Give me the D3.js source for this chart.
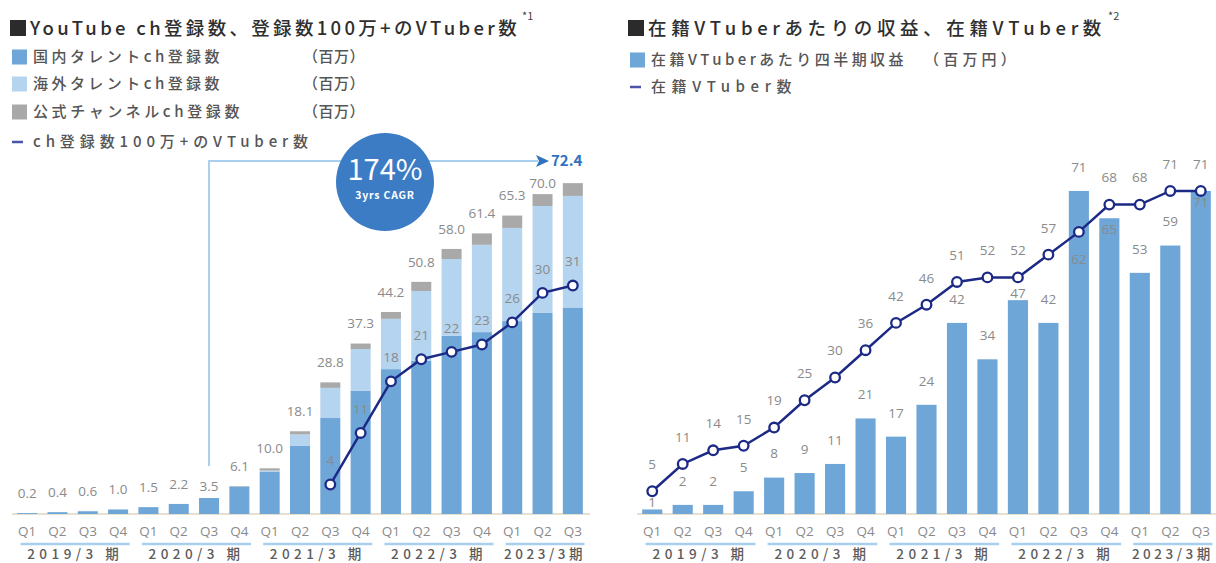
<!DOCTYPE html>
<html>
<head>
<meta charset="utf-8">
<script src="https://cdn.jsdelivr.net/npm/d3@7"></script>
<style>
  body { margin: 0; background: #fff; }
  svg { display: block; }
  text { font-family: "Noto Sans CJK JP", "Noto Sans", sans-serif; }
  .num { font-family: "Open Sans", "Noto Sans", sans-serif; fill: #8a8a8a; font-size: 13.5px; }
</style>
</head>
<body>
<div id="viz"></div>
<script>
// shared x axis
const quarters = ["Q1","Q2","Q3","Q4","Q1","Q2","Q3","Q4","Q1","Q2","Q3","Q4","Q1","Q2","Q3","Q4","Q1","Q2","Q3"];
const periodLabels = ["2019/3 期","2020/3 期","2021/3 期","2022/3 期","2023/3期"];
const periodFirst = [0, 4, 8, 12, 16];
const periodLast = [3, 7, 11, 15, 18];

// left chart: YouTube ch subscribers (millions)
const domesticSubs = [0.2,0.4,0.6,1.0,1.5,2.2,3.5,6.0,9.3,14.9,21.0,27.0,31.7,33.5,39.0,39.8,42.2,44.0,45.2];
const overseasSubs = [0,0,0,0,0,0,0,0,0.2,2.5,6.6,9.1,11.0,15.3,16.8,19.1,20.4,23.4,24.4];
const officialSubs = [0,0,0,0,0,0,0,0.1,0.5,0.7,1.2,1.2,1.5,2.0,2.2,2.5,2.7,2.6,2.8];
const totalLabels = ["0.2","0.4","0.6","1.0","1.5","2.2","3.5","6.1","10.0","18.1","28.8","37.3","44.2","50.8","58.0","61.4","65.3","70.0","72.4"];
const millionVtubers = [null,null,null,null,null,null,null,null,null,null,4,11,18,21,22,23,26,30,31];
const cagrText = "174%";
const cagrSub = "3yrs CAGR";
const cagrTarget = "72.4";

// right chart
const revenuePerVtuber = [1,2,2,5,8,9,11,21,17,24,42,34,47,42,71,65,53,59,71];
const vtuberCount = [5,11,14,15,19,25,30,36,42,46,51,52,52,57,62,68,68,71,71];

const C = {
  domestic: "#6ea6d8",
  overseas: "#b5d4ef",
  official: "#a9a9a9",
  line: "#1c2a86",
  circle: "#3b7cc5",
  under: "#a9cfee",
  base: "#e6e0d0"
};

const svg = d3.select("#viz").append("svg")
  .attr("width", 1216)
  .attr("height", 563);

const baseY = 514;

// spread a text's letters so it covers roughly the given width
function fit(t, width) {
  t.attr("letter-spacing", 0);
  const w = t.node().getComputedTextLength();
  const n = t.text().length;
  t.attr("letter-spacing", (width - w) / n);
  return t;
}

// ---------- legends ----------
function legendTitle(x, y, txt, note, width) {
  svg.append("rect").attr("x", x).attr("y", y - 8).attr("width", 16).attr("height", 16).attr("fill", "#2b2b2b");
  const t = svg.append("text").attr("x", x + 20).attr("y", y).attr("dy", "0.36em")
    .attr("font-size", 18.5).attr("font-weight", 500).attr("fill", "#2e2e2e")
    .text(txt);
  fit(t, width);
  svg.append("text").attr("x", x + 22 + width).attr("y", y - 8).attr("font-size", 11).attr("fill", "#444").text(note);
}
function legendText(x, y, txt, width) {
  const t = svg.append("text").attr("x", x).attr("y", y).attr("dy", "0.36em")
    .attr("font-size", 15).attr("font-weight", 500).attr("fill", "#555")
    .text(txt);
  return fit(t, width);
}
function legendSwatch(x, y, color, txt, width, unit, unitX, unitW) {
  svg.append("rect").attr("x", x).attr("y", y - 7.5).attr("width", 15).attr("height", 15).attr("fill", color);
  legendText(x + 21, y, txt, width);
  legendText(unitX, y, unit, unitW);
}
function legendLine(x, y, txt, width) {
  svg.append("line").attr("x1", x).attr("x2", x + 11).attr("y1", y).attr("y2", y)
    .attr("stroke", "#4a55a8").attr("stroke-width", 2.5);
  legendText(x + 21, y, txt, width);
}

legendTitle(10, 28, "YouTube ch登録数、登録数100万+のVTuber数", "*1", 490);
legendSwatch(12, 57, C.domestic, "国内タレントch登録数", 190, "（百万）", 303, 62);
legendSwatch(12, 84, C.overseas, "海外タレントch登録数", 190, "（百万）", 303, 62);
legendSwatch(12, 112, C.official, "公式チャンネルch登録数", 210, "（百万）", 303, 62);
legendLine(12, 142, "ch登録数100万+のVTuber数", 280);

legendTitle(628, 28, "在籍VTuberあたりの収益、在籍VTuber数", "*2", 458);
legendSwatch(630, 60, C.domestic, "在籍VTuberあたり四半期収益", 256, "（百万円）", 924, 96);
legendLine(630, 87, "在籍VTuber数", 146);

// ---------- axis helper ----------
function drawAxis(x, x0, x1) {
  svg.append("line").attr("x1", x0).attr("x2", x1).attr("y1", baseY).attr("y2", baseY)
    .attr("stroke", C.base).attr("stroke-width", 2);
  svg.append("g").selectAll("text").data(quarters).join("text")
    .attr("class", "num")
    .attr("x", (d, i) => x(i) + x.bandwidth() / 2)
    .attr("y", 531).attr("dy", "0.36em").attr("text-anchor", "middle")
    .attr("font-size", 13)
    .text(d => d);
  periodLabels.forEach((lab, k) => {
    const a = x(periodFirst[k]) + 3.5;
    const b = x(periodLast[k]) + x.bandwidth() + x.step() * x.paddingInner() / 2 - 3.5;
    svg.append("line").attr("x1", a).attr("x2", b).attr("y1", 544).attr("y2", 544)
      .attr("stroke", C.under).attr("stroke-width", 2.5);
    const t = svg.append("text").attr("x", (a + b) / 2).attr("y", 554).attr("dy", "0.34em")
      .attr("text-anchor", "middle").attr("font-size", 13.5).attr("font-weight", 500).attr("fill", "#5c5c5c")
      .text(lab);
    fit(t, lab.includes(" ") ? 96 : 82);
  });
}

function drawLine(x, y, vals) {
  const pts = vals.map((v, i) => ({ i, v })).filter(d => d.v !== null);
  svg.append("path").datum(pts)
    .attr("fill", "none").attr("stroke", C.line).attr("stroke-width", 2.5)
    .attr("d", d3.line().x(d => x(d.i) + x.bandwidth() / 2).y(d => y(d.v)));
  svg.append("g").selectAll("circle").data(pts).join("circle")
    .attr("cx", d => x(d.i) + x.bandwidth() / 2).attr("cy", d => y(d.v)).attr("r", 4.8)
    .attr("fill", "#fff").attr("stroke", C.line).attr("stroke-width", 2.3);
  return pts;
}

// ---------- left chart ----------
const xL = d3.scaleBand().domain(d3.range(quarters.length)).range([12, 588]).paddingInner(0.34).paddingOuter(0.17);
const yL = d3.scaleLinear().domain([0, 80]).range([baseY, baseY - 80 * 4.57]);
const yLine = d3.scaleLinear().domain([0, 45]).range([baseY, baseY - 45 * 7.37]);

drawAxis(xL, 12, 590);

const stackRows = quarters.map((q, i) => ({ domestic: domesticSubs[i], overseas: overseasSubs[i], official: officialSubs[i] }));
const stacked = d3.stack().keys(["domestic", "overseas", "official"])(stackRows);

svg.append("g").selectAll("g").data(stacked).join("g")
  .attr("fill", d => C[d.key])
  .selectAll("rect").data(d => d).join("rect")
  .attr("x", (d, i) => xL(i))
  .attr("width", xL.bandwidth())
  .attr("y", d => yL(d[1]))
  .attr("height", d => Math.max(0, yL(d[0]) - yL(d[1])));

// CAGR callout line
const cagrX = xL(6) + xL.bandwidth() / 2;
const arrowY = 161;
svg.append("path")
  .attr("d", `M${cagrX},466 V${arrowY} H538`)
  .attr("fill", "none").attr("stroke", C.under).attr("stroke-width", 2);
svg.append("path")
  .attr("d", `M536,${arrowY - 6} L549,${arrowY} L536,${arrowY + 6} L539,${arrowY} Z`)
  .attr("fill", "#2f72c0");
svg.append("text").attr("x", 551).attr("y", arrowY).attr("dy", "0.36em")
  .attr("font-family", "Open Sans, sans-serif").attr("font-weight", 700).attr("font-size", 15)
  .attr("fill", "#2f72c0").text(cagrTarget);

// total labels
svg.append("g").selectAll("text").data(totalLabels).join("text")
  .attr("class", "num")
  .attr("x", (d, i) => xL(i) + xL.bandwidth() / 2)
  .attr("y", (d, i) => {
    const top = yL(domesticSubs[i] + overseasSubs[i] + officialSubs[i]);
    return top - (i === 17 ? 11 : i === 6 ? 12 : 20);
  })
  .attr("dy", "0.36em").attr("text-anchor", "middle")
  .text((d, i) => i === 18 ? "" : d);

// million-subscriber VTuber line
const ptsL = drawLine(xL, yLine, millionVtubers);
svg.append("g").selectAll("text").data(ptsL).join("text")
  .attr("class", "num")
  .attr("x", d => xL(d.i) + xL.bandwidth() / 2)
  .attr("y", d => yLine(d.v) - 24).attr("dy", "0.36em").attr("text-anchor", "middle")
  .text(d => d.v);

// CAGR bubble
const bub = svg.append("g").attr("transform", "translate(385,182)");
bub.append("circle").attr("r", 49).attr("fill", C.circle);
bub.append("text").attr("y", -2).attr("text-anchor", "middle")
  .attr("font-family", "Open Sans, sans-serif").attr("font-size", 29).attr("fill", "#fff").text(cagrText);
bub.append("text").attr("y", 17).attr("text-anchor", "middle")
  .attr("font-family", "Liberation Sans, Arial, sans-serif").attr("font-weight", 700).attr("font-size", 10.5)
  .attr("letter-spacing", 0.8).attr("fill", "#fff").text(cagrSub);

// ---------- right chart ----------
const xR = d3.scaleBand().domain(d3.range(quarters.length)).range([637, 1216]).paddingInner(0.34).paddingOuter(0.17);
const yR = d3.scaleLinear().domain([0, 80]).range([baseY, baseY - 80 * 4.55]);

drawAxis(xR, 637, 1216);

svg.append("g").selectAll("rect").data(revenuePerVtuber).join("rect")
  .attr("fill", C.domestic)
  .attr("x", (d, i) => xR(i))
  .attr("width", xR.bandwidth())
  .attr("y", d => yR(d))
  .attr("height", d => baseY - yR(d));

const ptsR = drawLine(xR, yR, vtuberCount);

// bar labels
svg.append("g").selectAll("text").data(revenuePerVtuber).join("text")
  .attr("class", "num")
  .attr("x", (d, i) => xR(i) + xR.bandwidth() / 2)
  .attr("y", (d, i) => {
    const top = yR(d);
    const marker = yR(vtuberCount[i]);
    const line = vtuberCount[i];
    if (d <= line && line - d <= 3) return top + 11;
    let y = top - 24;
    if (d <= line && Math.abs(y - marker) < 14) y = top - 7;
    return y;
  })
  .attr("dy", "0.36em").attr("text-anchor", "middle")
  .text(d => d);

// line labels
svg.append("g").selectAll("text").data(ptsR).join("text")
  .attr("class", "num")
  .attr("x", d => xR(d.i) + xR.bandwidth() / 2)
  .attr("y", d => revenuePerVtuber[d.i] > d.v ? yR(d.v) + 27 : yR(d.v) - 27)
  .attr("dy", "0.36em").attr("text-anchor", "middle")
  .text(d => d.v);
</script>
</body>
</html>
